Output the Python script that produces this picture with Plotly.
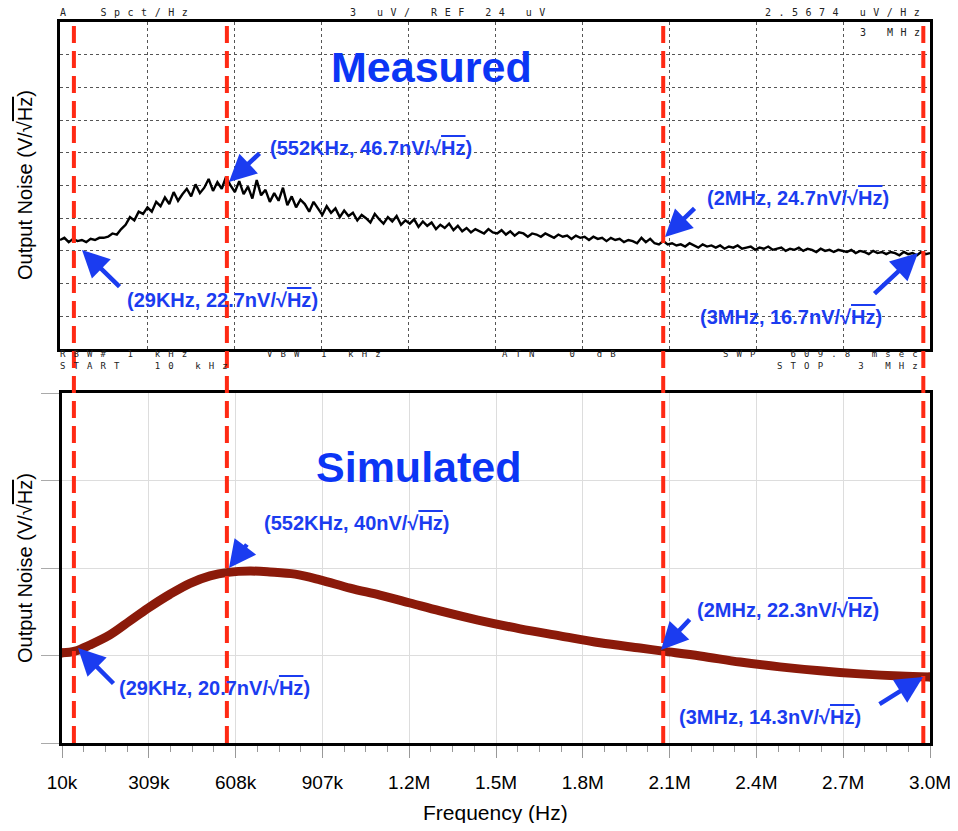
import numpy as np
import plotly.graph_objects as go

# page body has an 8px margin: the figure is sized/placed so that its content lands
# at the reference pixel positions inside the 958x831 window without overflowing it
OFF = 8
W, H = 958 - 2 * OFF, 831 - 2 * OFF

# ---------------- data ----------------
# Measured spectrum-analyzer trace (analyzer units, uV; REF 24 uV, 3 uV/div), uniform sweep 10 kHz .. 3 MHz
start_hz, stop_hz = 10e3, 3e6
meas_uv = [
    4.0, 4.2, 3.8, 4.1, 3.9, 4.0, 3.8, 4.1, 4.0, 4.2,
    4.2, 4.3, 4.6, 4.5, 5.0, 5.4, 6.1, 5.8, 6.6, 6.4,
    7.0, 6.6, 7.5, 7.1, 7.9, 7.3, 8.4, 7.6, 8.2, 8.7,
    8.0, 9.1, 8.3, 8.8, 9.6, 8.5, 9.3, 8.7, 9.8, 9.0,
    8.4, 9.4, 8.2, 8.9, 7.8, 9.5, 8.1, 8.6, 7.5, 8.3,
    7.6, 8.8, 7.2, 8.0, 7.0, 7.7, 7.3, 6.6, 7.5, 6.9,
    6.3, 7.1, 6.5, 6.9, 6.1, 6.7, 6.2, 6.5, 5.8, 6.3,
    6.0, 5.6, 6.4, 5.9, 5.5, 6.1, 5.7, 6.2, 5.4, 5.8,
    5.5, 5.9, 5.2, 5.7, 5.3, 5.6, 5.0, 5.4, 5.1, 5.5,
    4.9, 5.3, 4.8, 5.1, 4.7, 5.0, 4.8, 4.6, 5.0, 4.7,
    4.6, 4.9, 4.5, 4.8, 4.4, 4.7, 4.6, 4.3, 4.6, 4.5,
    4.3, 4.6, 4.4, 4.2, 4.5, 4.3, 4.4, 4.1, 4.4, 4.2,
    4.3, 4.0, 4.3, 4.1, 4.2, 3.9, 4.2, 4.0, 4.1, 3.8,
    4.0, 3.9, 3.7, 4.2, 3.8, 4.1, 3.7, 3.6, 3.9, 3.6,
    3.7, 3.5, 3.6, 3.4, 3.7, 3.5, 3.3, 3.6, 3.4, 3.5,
    3.3, 3.5, 3.2, 3.4, 3.3, 3.5, 3.2, 3.3, 3.4, 3.1,
    3.3, 3.2, 3.4, 3.1, 3.2, 3.3, 3.0, 3.2, 3.1, 3.3,
    3.0, 3.2, 3.1, 2.9, 3.2, 3.0, 3.1, 2.9, 3.1, 3.0,
    2.9, 3.1, 2.8, 3.0, 2.9, 2.7, 3.0, 2.8, 2.9, 2.7,
    2.9, 2.8, 2.6, 2.9, 2.7, 2.8, 2.6, 2.9, 2.7, 2.8,
]
meas_freq_hz = np.linspace(start_hz, stop_hz, len(meas_uv))  # analyzer sweep points

# Simulated output noise (nV/sqrt(Hz))
sim_freq_khz = [10, 55, 106, 175, 244, 306, 382, 451, 520, 582, 658, 726, 813, 899, 1002,
                1105, 1209, 1312, 1443, 1588, 1725, 1863, 2001, 2080, 2208, 2346, 2483,
                2621, 2759, 2897, 3000]
sim_nv = [20.6, 21.0, 22.4, 24.7, 27.9, 30.8, 34.0, 36.5, 38.2, 39.0, 39.3, 39.1, 38.6,
          37.3, 35.4, 33.8, 32.0, 30.2, 28.1, 26.1, 24.5, 22.9, 21.7, 21.0, 19.9, 18.5,
          17.4, 16.5, 15.8, 15.3, 15.1]

tick_vals_hz = [10e3, 309e3, 608e3, 907e3, 1206e3, 1505e3, 1804e3, 2103e3, 2402e3, 2701e3, 3000e3]
tick_text = ["10k", "309k", "608k", "907k", "1.2M", "1.5M", "1.8M", "2.1M", "2.4M", "2.7M", "3.0M"]

# marker lines (as drawn in the picture)
marker_line_hz = [51e3, 578e3, 2081e3, 2977e3]
meas_labels = ["(29KHz, 22.7nV/√Hz)", "(552KHz, 46.7nV/√Hz)", "(2MHz, 24.7nV/√Hz)", "(3MHz, 16.7nV/√Hz)"]
sim_labels = ["(29KHz, 20.7nV/√Hz)", "(552KHz, 40nV/√Hz)", "(2MHz, 22.3nV/√Hz)", "(3MHz, 14.3nV/√Hz)"]

# ---------------- helpers ----------------
def px(x):
    return (x - OFF) / W

def py(y):
    return 1 - (y - OFF) / H

def sqrt_hz(s):
    return s.replace("√Hz", "√<span style='text-decoration:overline'>Hz</span>")

BLUE = "#1b3cf0"
RED = "#ff2a14"
SANS = "Liberation Sans, Arial, sans-serif"
MONO = "DejaVu Sans Mono, monospace"

fig = go.Figure()
fig.add_trace(go.Scatter(x=meas_freq_hz, y=meas_uv, mode="lines",
                         line=dict(color="black", width=2.4),
                         xaxis="x", yaxis="y", showlegend=False, hoverinfo="skip"))
sim_freq_hz = [f * 1e3 for f in sim_freq_khz]
fig.add_trace(go.Scatter(x=sim_freq_hz, y=sim_nv, mode="lines",
                         line=dict(color="#8b1a0a", width=9, shape="spline"),
                         xaxis="x2", yaxis="y2", showlegend=False, hoverinfo="skip"))
fig.add_trace(go.Scatter(x=[sim_freq_hz[0], sim_freq_hz[-1]], y=[sim_nv[0], sim_nv[-1]],
                         mode="markers", marker=dict(color="#8b1a0a", size=9),
                         xaxis="x2", yaxis="y2", showlegend=False, hoverinfo="skip"))

top_grid = dict(showgrid=True, gridcolor="#555555", griddash="dot", gridwidth=1,
                showline=True, mirror=True, linecolor="black", linewidth=3,
                zeroline=False, showticklabels=False, ticks="", automargin=False)

shapes = []
for f in marker_line_hz:
    shapes.append(dict(type="line", xref="x2", yref="paper", x0=f, x1=f,
                       y0=py(743), y1=py(22),
                       line=dict(color=RED, width=4, dash="17px,8px")))

ann = []

def text(t, x, y, size, color="black", angle=0, xanchor="center", family=SANS, align="center"):
    ann.append(dict(text=t, x=px(x), y=py(y), xref="paper", yref="paper",
                    xanchor=xanchor, yanchor="middle", showarrow=False, textangle=angle,
                    align=align, font=dict(family=family, size=size, color=color)))

# titles
text("<b>Measured</b>", 431, 67, 43, "#0b35f5")
text("<b>Simulated</b>", 419, 467, 43, "#0b35f5")
# axis titles
for yc in (185, 568):
    text(sqrt_hz("Output Noise (V/√Hz)"), 25, yc, 20, angle=-90)
text("Frequency (Hz)", 495, 812, 21)

# label text positions (left, center-y) and arrows (tail -> head) in pixels
label_pos = [(125, 300), (268, 148), (705, 198), (698, 317),
             (117, 688), (262, 523), (695, 610), (677, 717)]
arrows = [((121, 288), (82, 250)), ((261, 152), (229, 182)), ((696, 207), (665, 237)),
          ((873, 295), (918, 253)),
          ((115, 685), (78, 648)), ((248, 543), (229, 568)), ((691, 618), (661, 650)),
          ((878, 705), (923, 677))]
for lbl, (lx, ly) in zip(meas_labels + sim_labels, label_pos):
    text("<b>" + sqrt_hz(lbl) + "</b>", lx, ly, 20, BLUE, xanchor="left")
for (tx, ty), (hx, hy) in arrows:
    ann.append(dict(text="", x=px(hx), y=py(hy), xref="paper", yref="paper",
                    ax=tx - hx, ay=ty - hy, showarrow=True, arrowhead=2, arrowsize=1.2,
                    arrowwidth=4.5, arrowcolor=BLUE, standoff=0))

# analyzer header / footer text (wide-spaced instrument font)
def mono(lines, x, y, size=10, align="left"):
    s = "<br>".join(l.replace(" ", "\u00a0") for l in lines)
    text("<span style='letter-spacing:%.1fpx'>" % (13.5 - 0.602 * size) + s + "</span>",
         x, y, size, "#222222", xanchor="left", family=MONO, align=align)

mono(["A  Spct/Hz"], 58, 13)
mono(["3 uV/ REF 24 uV"], 348, 13)
mono(["2.5674 uV/Hz"], 763, 13)
mono(["3 MHz"], 858, 32)
mono(["RBW# 1 kHz", "START  10 kHz"], 58, 360, size=9)
mono(["VBW 1 kHz"], 265, 354, size=9)
mono(["ATN  0 dB"], 500, 354, size=9)
mono(["SWP  609.8 msec", "STOP  3 MHz"], 721, 360, size=9, align="right")

fig.update_layout(
    width=W, height=H, margin=dict(l=0, r=0, t=0, b=0, pad=0, autoexpand=False),
    paper_bgcolor="white", plot_bgcolor="white", showlegend=False,
    xaxis=dict(domain=[px(60), px(930)], anchor="y", range=[start_hz, stop_hz],
               tickmode="array", tickvals=tick_vals_hz, **top_grid),
    yaxis=dict(domain=[py(349), py(22)], anchor="x", range=[-6, 24], tick0=-6, dtick=3,
               **top_grid),
    xaxis2=dict(domain=[px(62), px(930)], anchor="y2", range=[start_hz, stop_hz],
                tickmode="array", tickvals=tick_vals_hz, ticktext=tick_text,
                ticks="outside", ticklen=12, tickcolor="#999999", tickwidth=1,
                ticklabelstandoff=8, ticklabeloverflow="allow", automargin=False,
                tickfont=dict(family=SANS, size=19, color="black"),
                minor=dict(ticks="outside", ticklen=6, tickcolor="#999999", tick0=10e3,
                           dtick=74750, showgrid=False),
                showgrid=True, gridcolor="#dddddd", gridwidth=1,
                showline=True, mirror=True, linecolor="black", linewidth=3, zeroline=False),
    yaxis2=dict(domain=[py(743), py(393)], anchor="x2", range=[0, 80], tick0=0, dtick=20,
                ticks="outside", ticklen=18, tickcolor="#aaaaaa", tickwidth=1,
                automargin=False,
                showticklabels=False, showgrid=True, gridcolor="#dddddd", gridwidth=1,
                showline=True, mirror=True, linecolor="black", linewidth=3, zeroline=False),
    shapes=shapes, annotations=ann,
)

fig.write_html("out.html")
